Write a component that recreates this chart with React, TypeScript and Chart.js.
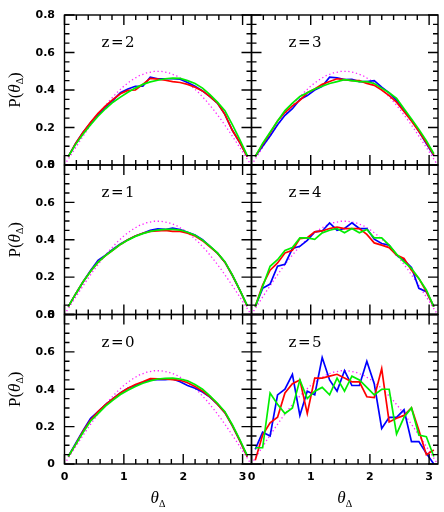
import React, { useEffect, useRef } from 'react';
import { Chart, registerables } from 'chart.js';
Chart.register(...registerables);

// bin centres (25 bins over 0..pi)
const THETA = [0.063, 0.188, 0.314, 0.440, 0.565, 0.691, 0.817, 0.942, 1.068, 1.194, 1.319, 1.445, 1.571, 1.696, 1.822, 1.948, 2.073, 2.199, 2.325, 2.450, 2.576, 2.702, 2.827, 2.953, 3.079];
// isotropic reference curve (magenta dotted)
const THETA_EDGES = [0, 0.126, 0.251, 0.377, 0.503, 0.628, 0.754, 0.880, 1.005, 1.131, 1.257, 1.382, 1.508, 1.634, 1.759, 1.885, 2.011, 2.136, 2.262, 2.388, 2.513, 2.639, 2.765, 2.890, 3.016, 3.142];
const ISOTROPIC = [0, 0.063, 0.124, 0.184, 0.241, 0.294, 0.342, 0.385, 0.422, 0.452, 0.476, 0.491, 0.499, 0.499, 0.491, 0.476, 0.452, 0.422, 0.385, 0.342, 0.294, 0.241, 0.184, 0.124, 0.063, 0];

const Z2_BLUE = [0.045, 0.115, 0.175, 0.225, 0.27, 0.31, 0.345, 0.385, 0.405, 0.42, 0.42, 0.468, 0.46, 0.46, 0.46, 0.458, 0.44, 0.42, 0.395, 0.365, 0.33, 0.27, 0.185, 0.12, 0.045];
const Z2_RED = [0.045, 0.115, 0.175, 0.228, 0.275, 0.315, 0.35, 0.38, 0.398, 0.40, 0.43, 0.462, 0.458, 0.452, 0.445, 0.44, 0.43, 0.415, 0.395, 0.365, 0.33, 0.27, 0.185, 0.12, 0.045];
const Z2_GREEN = [0.045, 0.11, 0.165, 0.215, 0.26, 0.30, 0.335, 0.362, 0.388, 0.41, 0.43, 0.443, 0.452, 0.46, 0.463, 0.462, 0.45, 0.435, 0.41, 0.375, 0.335, 0.29, 0.215, 0.135, 0.05];

const Z3_BLUE = [0.045, 0.10, 0.155, 0.215, 0.265, 0.30, 0.35, 0.37, 0.40, 0.42, 0.468, 0.465, 0.455, 0.457, 0.445, 0.445, 0.45, 0.415, 0.385, 0.345, 0.29, 0.24, 0.18, 0.115, 0.05];
const Z3_RED = [0.045, 0.11, 0.17, 0.235, 0.28, 0.315, 0.345, 0.385, 0.405, 0.43, 0.445, 0.46, 0.455, 0.45, 0.45, 0.435, 0.425, 0.40, 0.37, 0.335, 0.285, 0.235, 0.18, 0.12, 0.055];
const Z3_GREEN = [0.045, 0.115, 0.175, 0.235, 0.29, 0.33, 0.365, 0.385, 0.405, 0.42, 0.435, 0.445, 0.455, 0.45, 0.445, 0.445, 0.435, 0.41, 0.385, 0.355, 0.30, 0.245, 0.19, 0.13, 0.06];

const Z1_BLUE = [0.042, 0.11, 0.175, 0.235, 0.29, 0.318, 0.35, 0.378, 0.40, 0.42, 0.435, 0.45, 0.458, 0.455, 0.462, 0.455, 0.44, 0.425, 0.40, 0.365, 0.328, 0.28, 0.21, 0.13, 0.045];
const Z1_RED = [0.042, 0.11, 0.175, 0.232, 0.28, 0.315, 0.345, 0.375, 0.40, 0.42, 0.435, 0.445, 0.448, 0.45, 0.445, 0.445, 0.435, 0.42, 0.395, 0.362, 0.328, 0.28, 0.21, 0.13, 0.045];
const Z1_GREEN = [0.042, 0.11, 0.175, 0.232, 0.28, 0.315, 0.345, 0.375, 0.398, 0.418, 0.433, 0.445, 0.452, 0.456, 0.456, 0.452, 0.44, 0.424, 0.398, 0.366, 0.33, 0.283, 0.212, 0.132, 0.047];

const Z4_BLUE = [0.042, 0.14, 0.163, 0.258, 0.269, 0.353, 0.365, 0.397, 0.442, 0.447, 0.49, 0.451, 0.46, 0.49, 0.46, 0.46, 0.403, 0.38, 0.371, 0.318, 0.291, 0.252, 0.14, 0.122, 0.042];
const Z4_RED = [0.042, 0.157, 0.237, 0.276, 0.329, 0.343, 0.406, 0.411, 0.442, 0.447, 0.46, 0.468, 0.46, 0.46, 0.46, 0.429, 0.383, 0.371, 0.358, 0.318, 0.30, 0.237, 0.193, 0.122, 0.042];
const Z4_GREEN = [0.042, 0.149, 0.258, 0.293, 0.343, 0.358, 0.41, 0.41, 0.402, 0.437, 0.451, 0.46, 0.437, 0.46, 0.437, 0.455, 0.41, 0.41, 0.371, 0.323, 0.282, 0.247, 0.193, 0.131, 0.042];

const Z0_BLUE = [0.040, 0.11, 0.18, 0.245, 0.28, 0.318, 0.35, 0.38, 0.405, 0.42, 0.437, 0.45, 0.452, 0.452, 0.455, 0.44, 0.42, 0.405, 0.385, 0.358, 0.32, 0.275, 0.205, 0.125, 0.04];
const Z0_RED = [0.04, 0.105, 0.175, 0.235, 0.28, 0.318, 0.35, 0.38, 0.405, 0.425, 0.44, 0.457, 0.455, 0.455, 0.452, 0.448, 0.435, 0.415, 0.39, 0.36, 0.32, 0.275, 0.205, 0.125, 0.04];
const Z0_GREEN = [0.04, 0.105, 0.17, 0.23, 0.27, 0.31, 0.342, 0.372, 0.395, 0.415, 0.432, 0.445, 0.455, 0.458, 0.46, 0.455, 0.445, 0.425, 0.40, 0.365, 0.325, 0.28, 0.21, 0.13, 0.045];

const Z5_BLUE = [0.078, 0.17, 0.15, 0.37, 0.40, 0.48, 0.26, 0.39, 0.37, 0.57, 0.45, 0.39, 0.50, 0.42, 0.42, 0.55, 0.43, 0.19, 0.25, 0.25, 0.29, 0.12, 0.12, 0.057, 0.0];
const Z5_RED = [0.02, 0.155, 0.22, 0.25, 0.38, 0.43, 0.45, 0.27, 0.46, 0.46, 0.47, 0.48, 0.46, 0.44, 0.44, 0.36, 0.355, 0.51, 0.225, 0.245, 0.26, 0.30, 0.18, 0.05, 0.075];
const Z5_GREEN = [0.087, 0.087, 0.38, 0.32, 0.27, 0.30, 0.45, 0.35, 0.39, 0.41, 0.37, 0.46, 0.39, 0.47, 0.45, 0.41, 0.37, 0.40, 0.40, 0.16, 0.25, 0.30, 0.155, 0.146, 0.04];

const PANEL_LABELS = ['z=2', 'z=3', 'z=1', 'z=4', 'z=0', 'z=5'];
const PANEL_SERIES = [
  [Z2_BLUE, Z2_RED, Z2_GREEN],
  [Z3_BLUE, Z3_RED, Z3_GREEN],
  [Z1_BLUE, Z1_RED, Z1_GREEN],
  [Z4_BLUE, Z4_RED, Z4_GREEN],
  [Z0_BLUE, Z0_RED, Z0_GREEN],
  [Z5_BLUE, Z5_RED, Z5_GREEN],
];

const X_MAJOR = [0, 1, 2, 3];
const X_MINOR = [0.2, 0.4, 0.6, 0.8, 1.2, 1.4, 1.6, 1.8, 2.2, 2.4, 2.6, 2.8];
const Y_MAJOR = [0, 0.2, 0.4, 0.6, 0.8];
const Y_MINOR = [0.05, 0.1, 0.15, 0.25, 0.3, 0.35, 0.45, 0.5, 0.55, 0.65, 0.7, 0.75];
const X_TICK_LABELS = ['0', '1', '2', '3'];
const Y_TICK_LABELS = ['0', '0.2', '0.4', '0.6', '0.8'];

const W = 444;
const H = 512;
const COL_X = [64.5, 251.5, 438];
const ROW_Y = [15, 165, 314.5, 464];
const X_MAX = 3.15;
const Y_MAX = 0.8;
const TICK_FONT = 'bold 11px "DejaVu Sans"';

function drawPieces(ctx: CanvasRenderingContext2D, pieces: { t: string; font: string; dy: number }[], cx: number, baseline: number) {
  let total = 0;
  const widths = pieces.map((p) => {
    ctx.font = p.font;
    const w = ctx.measureText(p.t).width;
    total += w;
    return w;
  });
  let x = cx - total / 2;
  pieces.forEach((p, i) => {
    ctx.font = p.font;
    ctx.fillText(p.t, x, baseline + p.dy);
    x += widths[i];
  });
}

function makeDecor(idx: number) {
  const row = Math.floor(idx / 2);
  const col = idx % 2;
  return {
    id: 'panelDecor' + idx,
    afterDraw(chart: any) {
      const { ctx, chartArea: a, scales } = chart;
      const xs = scales.x;
      const ys = scales.y;
      ctx.save();
      ctx.strokeStyle = '#000';
      ctx.lineWidth = 1.4;
      ctx.strokeRect(a.left, a.top, a.right - a.left, a.bottom - a.top);
      ctx.beginPath();
      const seg = (x1: number, y1: number, x2: number, y2: number) => {
        ctx.moveTo(x1, y1);
        ctx.lineTo(x2, y2);
      };
      const xt = (vals: number[], len: number) => {
        vals.forEach((v) => {
          const p = xs.getPixelForValue(v);
          if (p < a.left - 0.5 || p > a.right + 0.5) return;
          seg(p, a.bottom, p, a.bottom - len);
          seg(p, a.top, p, a.top + len);
        });
      };
      const yt = (vals: number[], len: number) => {
        vals.forEach((v) => {
          const p = ys.getPixelForValue(v);
          if (p < a.top - 0.5 || p > a.bottom + 0.5) return;
          seg(a.left, p, a.left + len, p);
          seg(a.right, p, a.right - len, p);
        });
      };
      xt(X_MAJOR, 10);
      xt(X_MINOR, 5);
      yt(Y_MAJOR, 10);
      yt(Y_MINOR, 5);
      ctx.stroke();

      ctx.fillStyle = '#000';
      // tick labels
      ctx.font = TICK_FONT;
      if (col === 0) {
        ctx.textAlign = 'right';
        ctx.textBaseline = 'middle';
        Y_MAJOR.forEach((v, i) => {
          ctx.fillText(Y_TICK_LABELS[i], a.left - 9.5, ys.getPixelForValue(v) + 0.5);
        });
      }
      if (row === 2) {
        ctx.textAlign = 'center';
        ctx.textBaseline = 'alphabetic';
        X_MAJOR.forEach((v, i) => {
          ctx.fillText(X_TICK_LABELS[i], xs.getPixelForValue(v), a.bottom + 16);
        });
      }

      ctx.textAlign = 'left';
      ctx.textBaseline = 'alphabetic';
      ctx.font = '15px "DejaVu Serif"';
      (ctx as any).letterSpacing = '1.5px';
      ctx.fillText(PANEL_LABELS[idx], a.left + 37, a.top + 32);
      (ctx as any).letterSpacing = '0px';

      if (col === 0) {
        ctx.save();
        ctx.translate(14, (a.top + a.bottom) / 2);
        ctx.rotate(-Math.PI / 2);
        drawPieces(
          ctx,
          [
            { t: 'P(', font: '17px "Liberation Serif"', dy: 0 },
            { t: 'θ', font: 'italic 17px "Liberation Serif"', dy: 0 },
            { t: 'Δ', font: '10px "Liberation Serif"', dy: 3 },
            { t: ')', font: '17px "Liberation Serif"', dy: 0 },
          ],
          0,
          5.5
        );
        ctx.restore();
      }
      if (row === 2) {
        drawPieces(
          ctx,
          [
            { t: 'θ', font: 'italic 17px "Liberation Serif"', dy: 0 },
            { t: 'Δ', font: '10px "Liberation Serif"', dy: 4 },
          ],
          (a.left + a.right) / 2,
          503
        );
      }
      ctx.restore();
    },
  };
}

function Panel({ idx }: { idx: number }) {
  const ref = useRef<HTMLCanvasElement | null>(null);
  useEffect(() => {
    const row = Math.floor(idx / 2);
    const col = idx % 2;
    const [blue, red, green] = PANEL_SERIES[idx];
    const pts = (vals: number[]) => THETA.map((t, i) => ({ x: t, y: vals[i] }));
    const line = (data: any[], color: string) => ({
      data,
      borderColor: color,
      borderWidth: 1.7,
      pointRadius: 0,
      tension: 0,
      fill: false,
    });
    const chart = new Chart(ref.current as HTMLCanvasElement, {
      type: 'line',
      data: {
        datasets: [
          line(pts(green), '#00ee00'),
          line(pts(red), '#ff0000'),
          line(pts(blue), '#0000ff'),
          {
            data: THETA_EDGES.map((t, i) => ({ x: t, y: ISOTROPIC[i] })),
            borderColor: '#ff22ff',
            borderWidth: 1.3,
            borderDash: [1.3, 2.6],
            pointRadius: 0,
            tension: 0,
            fill: false,
          },
        ],
      },
      options: {
        responsive: false,
        animation: false,
        events: [],
        layout: {
          padding: {
            left: COL_X[col],
            right: W - COL_X[col + 1],
            top: ROW_Y[row],
            bottom: H - ROW_Y[row + 1],
          },
        },
        plugins: { legend: { display: false }, tooltip: { enabled: false } },
        scales: {
          x: { type: 'linear', min: 0, max: X_MAX, display: false },
          y: { type: 'linear', min: 0, max: Y_MAX, display: false },
        },
      } as any,
      plugins: [makeDecor(idx)],
    });
    return () => chart.destroy();
  }, [idx]);
  return (
    <canvas
      ref={ref}
      width={W}
      height={H}
      style={{ position: 'absolute', left: 0, top: 0, width: W, height: H, pointerEvents: 'none' }}
    />
  );
}

export default function App() {
  return (
    <div style={{ position: 'fixed', left: 0, top: 0, width: W, height: H, background: '#fff' }}>
      {PANEL_LABELS.map((_, i) => (
        <Panel key={i} idx={i} />
      ))}
    </div>
  );
}
